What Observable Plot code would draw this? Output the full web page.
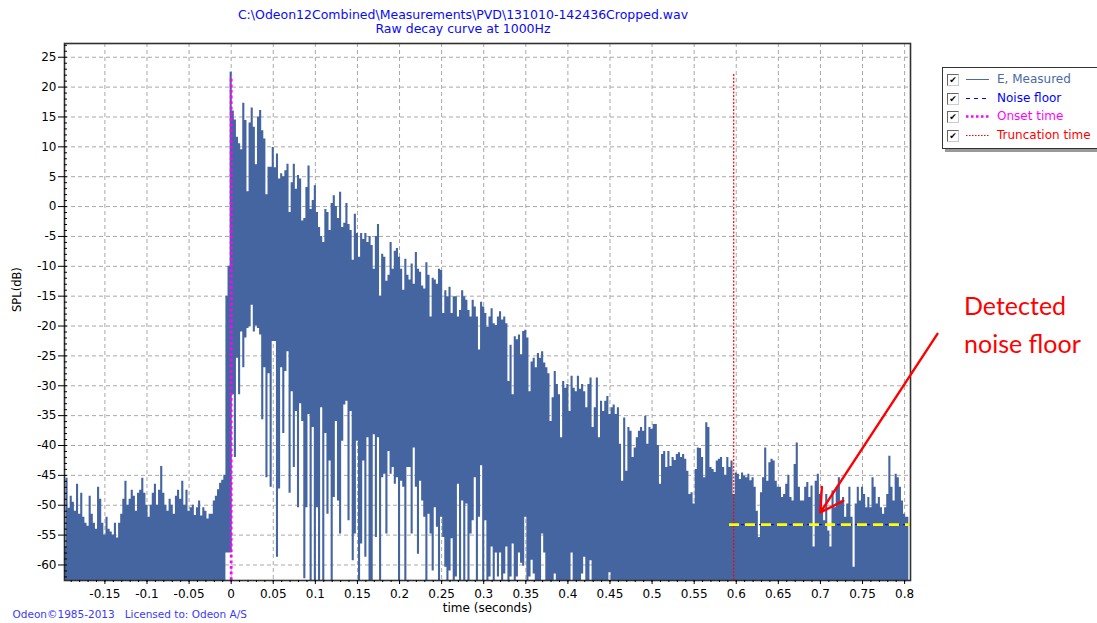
<!DOCTYPE html>
<html><head><meta charset="utf-8">
<script src="https://cdn.jsdelivr.net/npm/d3@7"></script>
<script src="https://cdn.jsdelivr.net/npm/@observablehq/plot@0.6"></script>
<style>
html,body{margin:0;padding:0;background:#fff;}
#wrap{position:relative;width:1097px;height:623px;overflow:hidden;font-family:"DejaVu Sans",sans-serif;}
#title{position:absolute;left:0;top:8px;width:926px;text-align:center;color:#0a0af5;font-size:12.5px;line-height:14px;}
#legend{position:absolute;left:942px;top:67px;width:170px;height:80px;border:1px solid #333;background:#fff;box-shadow:3px 3px 0 #999;font-size:12px;}
.row{position:absolute;left:0;height:16px;width:170px;}
.cb{position:absolute;left:4px;top:2px;width:10px;height:10px;border:1px solid;border-color:#666 #ccc #ccc #666;background:#fff;font-size:9px;line-height:10px;text-align:center;color:#000;}
.smp{position:absolute;left:22px;top:0;}
.lab{position:absolute;left:54px;top:0;line-height:15px;white-space:nowrap;}
#ann{position:absolute;left:964px;top:286px;color:#ff0000;font-family:Lato,sans-serif;font-size:25px;line-height:38px;}
</style></head>
<body><div id="wrap">
<div id="title">C:\Odeon12Combined\Measurements\PVD\131010-142436Cropped.wav<br>Raw decay curve at 1000Hz</div>
<div id="chart"></div>
<div id="legend"></div>
<div id="ann">Detected<br>noise floor</div>
</div>
<script>
// ---- sampled envelope of the raw decay curve (dB), one value per 2.5 ms from -0.1975 s ----
const tStart = -0.1975, tStep = 0.0025;

// upper envelope
const hiPre = [ // -0.1975 .. -0.0025
 -57,-45.5,-50.5,-48.5,-49.5,-51,-46.5,-51.5,-48,-52,
 -53,-53.5,-48.5,-51.5,-53,-54,-47,-49,-53,-55,
 -52,-54,-54.5,-55,-53,-55.5,-53,-51.5,-49,-46,
 -50,-49,-47.5,-48.5,-51,-48,-47.5,-45.5,-48,-50,
 -52,-50,-48,-46.5,-50,-47.5,-43.5,-48,-50,-51,
 -49,-50,-51.5,-48.5,-47.5,-49,-46,-50,-47.5,-51,
 -50.4,-50,-51.7,-50.4,-49.3,-51.8,-50.4,-51,-52.3,-51.5,
 -51.5,-49.3,-48.5,-47.4,-46.3,-45.8,-45,-15,-10];
const hiEarly = [ // 0 .. 0.25
 22.5,16,14.5,11.6,10.5,9.5,17.3,14.4,2.5,14,
 16.5,13.3,7,15,16.1,12.7,11.3,2,6.6,6.6,
 9.9,6.5,8.8,4.6,5.5,5,6,7.1,-1,4,
 7.1,2.9,5.2,4.6,-2.4,-2,3.2,6.8,-0.5,1,
 3.5,-1,-3.5,-5,-6,-0.5,-1,-4,0.5,1.8,
 0,-2,2.4,-3.5,-2.8,0.5,-3,-4,-9,-1.3,
 -4.5,-8.5,-4.5,-5.5,-4.5,-6,-5,-6.5,-10.5,-5,
 -3,-15,-8,-8.5,-12.5,-11.5,-6,-10.5,-7.5,-7,
 -8.5,-10.5,-14,-8.8,-11.5,-12.3,-9.6,-13,-7.7,-10.5,
 -11,-13.3,-13.8,-9.4,-11.5,-18.5,-12,-12.3,-13,-10.5,
 -10.7];
const hiMid = [ // 0.2525 .. 0.5
 -17.9,-14.1,-15.1,-13.5,-17.9,-15.1,-15.1,-18.5,-17.4,-14.1,
 -15.1,-15.7,-17.4,-18.5,-15.7,-16.8,-18.5,-24,-16,-16.8,
 -17.9,-20.2,-18.5,-17.1,-19.6,-19.9,-18.5,-17.6,-19,-18.5,
 -19.6,-29.3,-23.2,-31.5,-21.8,-22.3,-21.5,-24.8,-20.9,-20.7,
 -22,-31,-26,-25.4,-27,-24.6,-25.4,-24.3,-26.2,-27,
 -28,-36,-32,-27.6,-29.8,-31.5,-38.7,-29.3,-30.4,-29.8,
 -34.3,-28.4,-30.4,-31,-28.4,-30.6,-29.8,-31,-33.7,-29.8,
 -28.7,-37,-33.7,-28.7,-38.7,-32.6,-34.3,-32.6,-31.8,-34.8,
 -33.7,-33.2,-34.8,-33.7,-39.8,-46,-35.4,-44.3,-37,-37.6,
 -42,-40.4,-38.7,-37.6,-37,-37.6,-35.1,-39.8,-37,-37.3];
const hiLate = [ // 0.5025 .. 0.805
 -36.5,-36.5,-40,-46.5,-41.5,-41,-43.7,-41,-43.5,-42,-42.5,-41.5,
 -41.2,-42,-41.5,-42.3,-44.3,-48.2,-47.9,-49.8,-44,-40.4,
 -40.5,-42,-45.4,-36.2,-37,-43.7,-44,-44.5,-42.6,-42.3,
 -42,-43.7,-45,-42,-43.7,-42.6,-48.2,-44.6,-44.8,-45.7,
 -44.6,-45.1,-45.4,-44.8,-45.9,-45.4,-47,-51,-55.4,-47.9,
 -45.4,-40.4,-46,-42.9,-42.3,-42.6,-46,-47,-47,-48.7,
 -48.2,-46.5,-45,-48.7,-49.3,-43.2,-39.6,-47,-49.3,-49.3,
 -47,-46.2,-48.7,-46.8,-57,-46,-44.8,-48.2,-50.4,-52.6,
 -48.2,-54.3,-57,-47.6,-50.4,-47,-45.4,-49.3,-48.7,-52,
 -49.8,-47,-52,-60.4,-49.8,-47,-49.3,-47,-48.2,-50.4,
 -48.7,-50.4,-45.4,-47,-49.8,-48.7,-50.4,-51.5,-50.4,-48.2,
 -41.8,-47,-49.3,-44.8,-45.4,-47,-49.3,-51.5,-52,-52];

// lower envelope
const loPre = [
 -63,-63,-63,-63,-63,-63,-63,-63,-63,-63,
 -63,-63,-63,-63,-63,-63,-63,-63,-63,-63,
 -63,-63,-63,-63,-63,-63,-63,-63,-63,-63,
 -63,-63,-63,-63,-63,-63,-63,-63,-63,-63,
 -63,-63,-63,-63,-63,-63,-63,-63,-63,-63,
 -63,-63,-63,-63,-63,-63,-63,-63,-63,-63,
 -63,-63,-63,-63,-63,-63,-63,-63,-63,-63,
 -63,-63,-63,-63,-63,-63,-63,-58,-58];
const loEarly = [
 -58,-31.5,-42,-25.4,-31.5,-21,-27,-22,-20.4,-20.1,
 -16.5,-21,-20,-20.4,-21.5,-35.7,-27,-45.4,-28,-47,
 -22.6,-22.6,-58.7,-47.3,-27,-38,-27.6,-24.3,-48,-31,
 -43.7,-34.3,-50.4,-33,-36,-62.3,-50.4,-34.8,-63,-37,
 -63,-50.4,-63,-33.7,-63,-38,-51.5,-42.6,-63,-48.7,
 -36,-49.3,-54.8,-39.3,-33.2,-32.6,-52.6,-34.3,-59.3,-54.8,
 -39.3,-63,-56.5,-42.6,-58.7,-38.7,-63,-63,-38.2,-55.4,
 -38.7,-63,-45.4,-44.8,-54.8,-41,-44.8,-43.7,-46.5,-45.4,
 -63,-46,-47,-63,-43.7,-43.7,-54.8,-40.4,-47,-58.2,
 -46,-49.3,-52,-63,-51.5,-54.8,-61,-50.4,-53.7,-63,
 -52];
const loMid = [
 -55.4,-60.4,-63,-61,-55.6,-63,-62,-46.5,-63,-49.3,
 -63,-49.8,-63,-54.8,-52.6,-45.4,-63,-52,-43.4,-63,
 -52.6,-63,-62,-57,-63,-58,-62,-58,-63,-61.5,
 -57,-63,-62,-56.5,-63,-62,-58,-59.7,-60.2,-52,
 -63,-62,-59.2,-61.5,-63,-63,-63,-54.8,-58,-63,
 -63,-63,-63,-61.5,-63,-63,-63,-63,-63,-63,
 -63,-58,-63,-63,-63,-63,-61.5,-58.7,-63,-63,
 -59.3,-63,-63,-63,-63,-63,-63,-63,-63,-61.3,
 -63,-63,-63,-63,-63,-63,-63,-63,-63,-63,
 -63,-63,-63,-63,-63,-63,-63,-63,-63,-63];
const loLate = [
 -63,-63,-63,-63,-63,-63,-63,-63,-63,-63,-63,-63,
 -63,-63,-63,-63,-63,-63,-63,-63,-63,-63,
 -63,-63,-63,-63,-63,-63,-63,-63,-63,-63,
 -63,-63,-63,-63,-63,-63,-63,-63,-63,-63,
 -63,-63,-63,-63,-63,-63,-63,-63,-63,-63,
 -63,-63,-63,-63,-63,-63,-63,-63,-63,-63,
 -63,-63,-63,-63,-63,-63,-63,-63,-63,-63,
 -63,-63,-63,-63,-63,-63,-63,-63,-63,-63,
 -63,-63,-63,-63,-63,-63,-63,-63,-63,-63,
 -63,-63,-63,-63,-63,-63,-63,-63,-63,-63,
 -63,-63,-63,-63,-63,-63,-63,-63,-63,-63,
 -63,-63,-63,-63,-63,-63,-63,-63,-63,-63];

// markers
const onsetTime = [0];
const onsetTop = 21.8;
const truncationTime = [0.597];
const truncationTop = 22.2;
const noiseFloor = [-53.25];
const noiseFrom = 0.592;
const arrowFrom = [0.839, -21.3];
const arrowTo = [0.7, -51.2];

// axes
const xDomain = [-0.198, 0.807];
const yDomain = [-62.6, 27.3];
const xTicks = [-0.15,-0.1,-0.05,0,0.05,0.1,0.15,0.2,0.25,0.3,0.35,0.4,0.45,0.5,0.55,0.6,0.65,0.7,0.75,0.8];
const yTicks = [-60,-55,-50,-45,-40,-35,-30,-25,-20,-15,-10,-5,0,5,10,15,20,25];
const yMinor = d3.range(-62, 28);
const xMinor = d3.range(-19, 81).map(i => i / 100);

const hi = [...hiPre, ...hiEarly, ...hiMid, ...hiLate];
const lo = [...loPre, ...loEarly, ...loMid, ...loLate];
if (hi.length !== lo.length) throw new Error("length mismatch " + hi.length + " " + lo.length);
const data = hi.map((h, i) => ({t: tStart + i * tStep, hi: h, lo: lo[i]}));

const fill = "#4565a1";
const fmt = d => String(d);

const chart = Plot.plot({
  width: 1097, height: 623,
  marginLeft: 64, marginRight: 187, marginTop: 43, marginBottom: 43,
  style: {fontFamily: "DejaVu Sans, sans-serif", fontSize: "12px", color: "#000", background: "transparent"},
  x: {domain: xDomain},
  y: {domain: yDomain},
  marks: [
    Plot.gridX(xTicks, {stroke: "#a8a8a8", strokeOpacity: 1, strokeDasharray: "4,3"}),
    Plot.gridY(yTicks, {stroke: "#a8a8a8", strokeOpacity: 1, strokeDasharray: "4,3"}),
    Plot.areaY(data, {x: "t", y1: "lo", y2: "hi", fill: fill, curve: "step", clip: true}),
    Plot.ruleX(truncationTime, {y1: yDomain[0], y2: truncationTop, stroke: "#ff0000", strokeWidth: 1.2, strokeDasharray: "2,1.5"}),
    Plot.ruleX(onsetTime, {y1: yDomain[0], y2: onsetTop, stroke: "#ff00ff", strokeWidth: 2.8, strokeDasharray: "2.8,2.8"}),
    Plot.ruleY(noiseFloor, {x1: noiseFrom, x2: xDomain[1], stroke: "#0000ff", strokeWidth: 1, strokeDasharray: "3,3"}),
    Plot.ruleY(noiseFloor, {x1: noiseFrom, x2: xDomain[1], stroke: "#ffff00", strokeWidth: 2.6, strokeDasharray: "10,6"}),
    Plot.frame({stroke: "#303030", strokeWidth: 1.6}),
    Plot.axisY(yTicks, {anchor: "left", tickSize: 6, tickPadding: 2, tickFormat: fmt, label: null, fontSize: 12}),
    Plot.axisY(yMinor, {anchor: "left", tickSize: 3, dx: 3, tickFormat: () => "", label: null}),
    Plot.axisX(xTicks, {anchor: "bottom", tickSize: 4, tickPadding: 5, tickFormat: fmt, label: null, fontSize: 12}),
    Plot.axisX(xMinor, {anchor: "bottom", tickSize: 2, tickFormat: () => "", label: null}),
    Plot.text(["SPL(dB)"], {frameAnchor: "left", rotate: -90, dx: -47, fontSize: 11.5}),
    Plot.text(["time (seconds)"], {frameAnchor: "bottom", dy: 31, fontSize: 12}),
    Plot.text(["Odeon©1985-2013   Licensed to: Odeon A/S"], {frameAnchor: "bottom-left", textAnchor: "start", dx: -52, dy: 37, fontSize: 10.5, fill: "#3b3bf5"}),
    Plot.arrow([{from: arrowFrom, to: arrowTo}], {x1: d => d.from[0], y1: d => d.from[1], x2: d => d.to[0], y2: d => d.to[1], stroke: "#ff0000", strokeWidth: 2.4, headLength: 16})
  ]
});
document.getElementById("chart").appendChild(chart);

// legend
const legendItems = [
  {label: "E, Measured", color: "#4a6aa5", dash: null, width: 1},
  {label: "Noise floor", color: "#0000ff", dash: "4,4", width: 1.2},
  {label: "Onset time", color: "#ff00ff", dash: "2.5,2.5", width: 2.5},
  {label: "Truncation time", color: "#ff0000", dash: "1.5,1.5", width: 1.2}
];
const legendRowTops = [4, 22.5, 40.5, 60];
const legend = document.getElementById("legend");
legendItems.forEach((it, i) => {
  const row = document.createElement("div");
  row.className = "row";
  row.style.top = legendRowTops[i] + "px";
  row.innerHTML = `<div class="cb">✔</div>
    <svg class="smp" width="26" height="15"><line x1="1" x2="24" y1="7.5" y2="7.5" stroke="${it.color}" stroke-width="${it.width}" ${it.dash ? `stroke-dasharray="${it.dash}"` : ""}/></svg>
    <div class="lab" style="color:${it.color}">${it.label}</div>`;
  legend.appendChild(row);
});
</script>
</body></html>
